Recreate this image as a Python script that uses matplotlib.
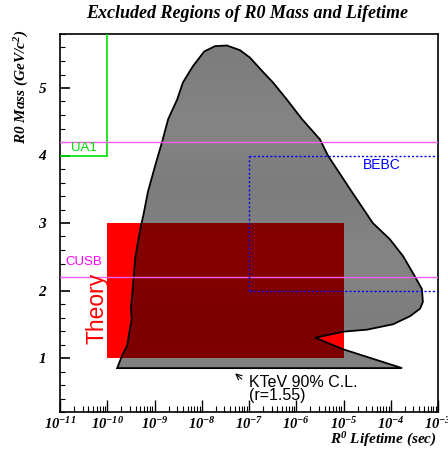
import numpy as np
import matplotlib
matplotlib.use('Agg')
import matplotlib.pyplot as plt
from matplotlib.patches import Polygon, Rectangle
from matplotlib.image import FigureImage
from matplotlib.ticker import LogLocator, MultipleLocator, FuncFormatter, NullFormatter

plt.rcParams['mathtext.fontset'] = 'custom'
plt.rcParams['mathtext.rm'] = 'Liberation Serif:bold:italic'
plt.rcParams['mathtext.it'] = 'Liberation Serif:bold:italic'
plt.rcParams['mathtext.bf'] = 'Liberation Serif:bold:italic'

# KTeV 90% C.L. excluded region: log10(lifetime / s), mass (GeV/c^2)
ktev_logtau = [-9.79, -9.69, -9.58, -9.52, -9.48, -9.50, -9.46, -9.41, -9.35, -9.29,
               -9.24, -9.14, -8.99, -8.84, -8.71, -8.52, -8.40, -8.19, -7.95, -7.72,
               -7.47, -7.19, -6.98, -6.72, -6.49, -6.20, -5.88, -5.50, -5.33, -4.86,
               -4.38, -4.02, -3.74, -3.49, -3.34, -3.32, -3.38, -3.59, -3.95, -4.50,
               -5.01, -5.60, -5.01, -3.76]
ktev_mass = [0.85, 1.03, 1.18, 1.43, 1.58, 1.73, 2.02, 2.47, 2.72, 2.95,
             3.10, 3.46, 3.84, 4.20, 4.54, 4.83, 5.08, 5.32, 5.54, 5.62,
             5.63, 5.56, 5.45, 5.25, 5.08, 4.83, 4.54, 4.24, 4.00, 3.50,
             3.00, 2.76, 2.51, 2.21, 2.02, 1.83, 1.73, 1.62, 1.50, 1.42,
             1.39, 1.30, 1.13, 0.85]

# theory box
theory_tau = [1e-10, 1e-5]
theory_mass = [1.0, 3.0]

# UA1: tau < 1e-10, m > 4
ua1_tau = 1e-10
ua1_mass = 4.0

# CUSB mass lines
cusb_mass = [2.2, 4.2]

# BEBC: tau > 1e-7, 2 < m < 4
bebc_tau = 1e-7
bebc_mass = [2.0, 4.0]

decades = np.arange(-11, -2)
xmin, xmax = 1e-11, 1e-3
ymin, ymax = 0.2, 5.8

fig = plt.figure(figsize=(4.48, 4.51), dpi=100)
ax = fig.add_axes([60 / 448, 39 / 451, 378 / 448, 378 / 451])
ax.set_xscale('log')

# theory region
ax.add_patch(Rectangle((theory_tau[0], theory_mass[0]), theory_tau[1] - theory_tau[0],
                       theory_mass[1] - theory_mass[0], facecolor='#ff0000',
                       edgecolor='none', zorder=1))

# KTeV region, pixel checker pattern clipped to the contour
tau = 10.0 ** np.array(ktev_logtau)
poly = Polygon(np.column_stack([tau, ktev_mass]), closed=True, facecolor='none',
               edgecolor='black', linewidth=1.3, zorder=3)
ax.add_patch(poly)
npx = 380
ii, jj = np.indices((npx, npx))
checker = np.zeros((npx, npx, 4))
checker[..., 3] = ((ii + jj) % 2 == 0).astype(float)
fi = FigureImage(fig, offsetx=59, offsety=38, origin='lower', zorder=2)
fi.set_data(checker)
ax.add_artist(fi)
fi.set_clip_path(poly)

# UA1
ax.plot([ua1_tau, ua1_tau], [ua1_mass, ymax], color='#00e000', lw=1.2, zorder=4)
ax.plot([xmin, ua1_tau], [ua1_mass, ua1_mass], color='#00e000', lw=1.2, zorder=4)
ax.text(1.7e-11, 4.02, 'UA1', color='#00dd00', fontsize=9.5,
        family='Liberation Sans', ha='left', va='bottom', zorder=5)

# CUSB
for m in cusb_mass:
    ax.axhline(m, color='#f060f0', lw=1.0, zorder=4)
ax.text(1.3e-11, 2.34, 'CUSB', color='#ff00ff', fontsize=9.5,
        family='Liberation Sans', ha='left', va='bottom', zorder=5)

# BEBC
for seg_x, seg_y in [([bebc_tau, xmax], [bebc_mass[1]] * 2),
                     ([bebc_tau, bebc_tau], bebc_mass),
                     ([bebc_tau, xmax], [bebc_mass[0]] * 2)]:
    ax.plot(seg_x, seg_y, color='#0000ee', lw=1.0, ls=(0, (1.5, 1.5)), zorder=4)
ax.text(2.6e-5, 3.86, 'BEBC', color='#0000ff', fontsize=10,
        family='Liberation Sans', ha='left', va='center', zorder=5)

# Theory label
ax.text(6.0e-11, 1.74, 'Theory', color='#ff0000', fontsize=16.5,
        family='Liberation Sans', rotation=90, ha='center', va='center', zorder=5)

# KTeV label with arrow
ax.annotate('', xy=(4.6e-8, 0.80), xytext=(7.8e-8, 0.66),
            arrowprops=dict(arrowstyle='->', color='black', lw=0.8), zorder=5)
ax.text(1.0e-7, 0.75, 'KTeV 90% C.L.\n(r=1.55)', color='black', fontsize=11.5,
        family='Liberation Sans', ha='left', va='top', linespacing=0.85, zorder=5)

ax.set_xlim(xmin, xmax)
ax.set_ylim(ymin, ymax)

ax.xaxis.set_minor_locator(LogLocator(base=10, subs=np.arange(2, 10), numticks=20))
ax.set_xticks(10.0 ** decades)
ax.set_xticklabels(['$10^{%d}$' % d for d in decades])
ax.xaxis.set_minor_formatter(NullFormatter())
ax.yaxis.set_major_locator(MultipleLocator(1))
ax.yaxis.set_minor_locator(MultipleLocator(0.2))
ax.yaxis.set_major_formatter(FuncFormatter(lambda v, p: '%d' % v))

ax.tick_params(which='both', direction='in', top=False, right=False)
ax.tick_params(axis='x', which='major', length=9, width=1, labelsize=10.5, pad=3)
ax.tick_params(axis='x', which='minor', length=4, width=0.8)
ax.tick_params(axis='y', which='major', length=7, width=1.2, labelsize=11, pad=10)
ax.tick_params(axis='y', which='minor', length=3.5, width=0.8)
for lab in ax.get_yticklabels():
    lab.set_family('Liberation Serif')
    lab.set_fontweight('bold')
    lab.set_fontstyle('italic')
for s in ax.spines.values():
    s.set_linewidth(1.2)

fig.text(247 / 448, 1 - 14 / 451, 'Excluded Regions of R0 Mass and Lifetime',
         family='Liberation Serif', weight='bold', style='italic', fontsize=13,
         ha='center', va='center')
fig.text(22 / 448, 1 - 30 / 451, 'R0 Mass (GeV/c$^{2}$)', family='Liberation Serif',
         weight='bold', style='italic', fontsize=11, rotation=90, ha='center', va='top')
fig.text(437 / 448, 1 - 440 / 451, 'R$^{0}$ Lifetime (sec)', family='Liberation Serif',
         weight='bold', style='italic', fontsize=11, ha='right', va='center')

fig.savefig('out.png', dpi=100)
